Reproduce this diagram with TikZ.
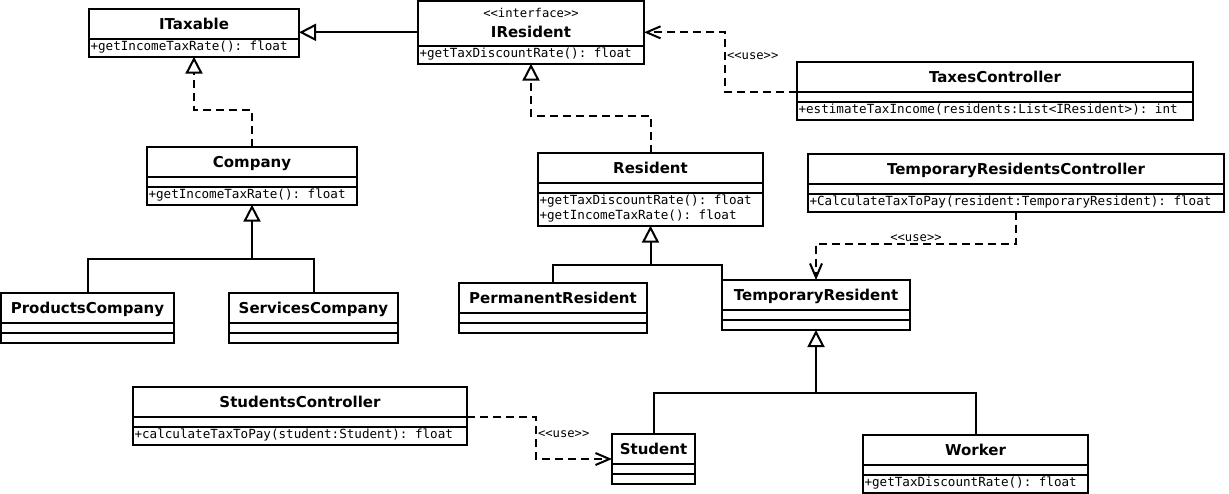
\documentclass[tikz,border=0pt]{standalone}
\usepackage{fontspec}
\setmainfont{DejaVu Sans}
\setmonofont{DejaVu Sans Mono}
\usetikzlibrary{shapes.multipart,arrows.meta}
\setlength{\parindent}{0pt}

\newcommand\clsname[1]{\centering\rule[-8pt]{0pt}{26pt}\textbf{#1}\par}
\newcommand\clsops[1]{\ttfamily\fontsize{12.6}{15}\selectfont\lineskiplimit=-\maxdimen
  \rule[-4pt]{0pt}{13pt}#1\rule[-4pt]{0pt}{0pt}\par}
\newcommand\clsnone{\rule{0pt}{6pt}}

\begin{document}
\begin{tikzpicture}
[x=1pt, y=-1pt, line width=2pt, font=\fontsize{15}{20}\selectfont,
  cls/.style={draw, rectangle split, rectangle split parts=3, anchor=north west,
              inner xsep=1.5pt, inner ysep=1pt, outer sep=0pt},
  iface/.style={cls, rectangle split parts=2},
  inherit/.style={-{Triangle[open, length=17pt, width=17pt]}},
  realize/.style={inherit, dash pattern=on 8pt off 5pt},
  use/.style={-{Straight Barb[length=14pt, width=12pt]}, dash pattern=on 8pt off 5pt},
  usetext/.style={font=\ttfamily\fontsize{12.2}{14}\selectfont, inner sep=1pt}]
  \useasboundingbox (0,0) rectangle (1229,493);

  % interfaces
  \node[iface, text width=207pt] (itaxable) at (89,9)
    {\clsname{ITaxable}\nodepart{two}\clsops{+getIncomeTaxRate(): float}};
  \node[iface, text width=223pt] (iresident) at (418,1)
    {\centering\rule{0pt}{14pt}{\ttfamily\fontsize{12.2}{15}\selectfont <<interface>>}\\
     \rule[-7pt]{0pt}{0pt}\textbf{IResident}\par
     \nodepart{two}\clsops{+getTaxDiscountRate(): float}};

  % controllers
  \node[cls, text width=393pt] (taxes) at (797,62)
    {\clsname{TaxesController}\nodepart{two}\clsnone
     \nodepart{three}\clsops{+estimateTaxIncome(residents:List<IResident>): int}};
  \node[cls, text width=413pt] (trc) at (808,154)
    {\clsname{TemporaryResidentsController}\nodepart{two}\clsnone
     \nodepart{three}\clsops{+CalculateTaxToPay(resident:TemporaryResident): float}};
  \node[cls, text width=331pt] (studctrl) at (133,387)
    {\clsname{StudentsController}\nodepart{two}\clsnone
     \nodepart{three}\clsops{+calculateTaxToPay(student:Student): float}};

  % companies
  \node[cls, text width=207pt] (company) at (147,147)
    {\clsname{Company}\nodepart{two}\clsnone
     \nodepart{three}\clsops{+getIncomeTaxRate(): float}};
  \node[cls, text width=170pt] (products) at (1,293)
    {\clsname{ProductsCompany}\nodepart{two}\clsnone\nodepart{three}\clsnone};
  \node[cls, text width=166pt] (services) at (229,293)
    {\clsname{ServicesCompany}\nodepart{two}\clsnone\nodepart{three}\clsnone};

  % residents
  \node[cls, text width=222pt] (resident) at (538,153)
    {\clsname{Resident}\nodepart{two}\clsnone
     \nodepart{three}\clsops{+getTaxDiscountRate(): float\\+getIncomeTaxRate(): float}};
  \node[cls, text width=185pt] (permanent) at (459,283)
    {\clsname{PermanentResident}\nodepart{two}\clsnone\nodepart{three}\clsnone};
  \node[cls, text width=185pt] (temporary) at (722,280)
    {\clsname{TemporaryResident}\nodepart{two}\clsnone\nodepart{three}\clsnone};
  \node[cls, text width=80pt] (student) at (612,434)
    {\clsname{Student}\nodepart{two}\clsnone\nodepart{three}\clsnone};
  \node[cls, text width=222pt] (worker) at (863,435)
    {\clsname{Worker}\nodepart{two}\clsnone
     \nodepart{three}\clsops{+getTaxDiscountRate(): float}};

  % generalization / realization
  \draw[inherit] (iresident.west) -- (iresident.west -| itaxable.east);
  \draw[realize] (company.north) -- ++(0,-37) -| (itaxable.south);
  \draw[realize] (resident.north) -- ++(0,-37) -| (iresident.south);

  \path (company.south) ++(0,54) coordinate (compjoin);
  \draw[inherit] (compjoin) -- (company.south);
  \draw (products.north) |- (compjoin) -| (services.north);

  \path (resident.south) ++(0,39) coordinate (resjoin);
  \draw[inherit] (resjoin) -- (resident.south);
  \draw (permanent.north) |- (resjoin) -| (temporary.north west);

  \path (temporary.south) ++(0,63) coordinate (tmpjoin);
  \draw[inherit] (tmpjoin) -- (temporary.south);
  \draw (student.north) |- (tmpjoin) -| (worker.north);

  % dependencies
  \draw[use] (taxes.text split west) -- ++(-72,0) |- (iresident.east)
    node[usetext, pos=0.3, anchor=west] {<<use>>};
  \draw[use] (trc.south) -- ++(0,32) -| (temporary.north)
    node[usetext, pos=0.25, above] {<<use>>};
  \draw[use] (studctrl.text split east) -- ++(69,0) |- (student.west)
    node[usetext, pos=0.2, anchor=west] {<<use>>};
\end{tikzpicture}
\end{document}
